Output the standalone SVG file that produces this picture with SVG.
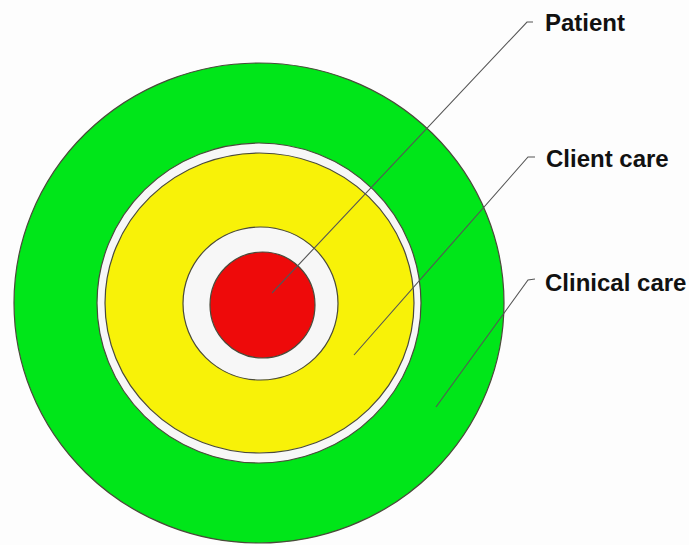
<svg xmlns="http://www.w3.org/2000/svg" width="689" height="545" viewBox="0 0 689 545">
  <style>
    .ring { stroke: #4a4a3a; stroke-width: 1.2; }
    .lead { fill: none; stroke: #555555; stroke-width: 1.1; }
    .label { font-family: "Liberation Sans", Arial, sans-serif; font-weight: bold; font-size: 24px; fill: #111111; }
  </style>
  <rect x="0" y="0" width="689" height="545" fill="#fdfdfd"/>
  <g id="clinical-care">
    <ellipse class="ring" cx="259" cy="303" rx="245" ry="240" fill="#00e619"/>
    <ellipse class="ring" cx="259" cy="303" rx="162" ry="160" fill="#f7f7f7"/>
  </g>
  <g id="client-care">
    <ellipse class="ring" cx="259.5" cy="303" rx="154.5" ry="150" fill="#f8f208"/>
    <ellipse class="ring" cx="260.5" cy="303.5" rx="77.5" ry="76.5" fill="#f7f7f7"/>
  </g>
  <g id="patient">
    <ellipse class="ring" cx="262.5" cy="305" rx="52.5" ry="53" fill="#ee0a0a"/>
  </g>
  <g id="connectors">
    <polyline class="lead" points="533,22 527,22 272,293"/>
    <polyline class="lead" points="535,157 528,157 354,355"/>
    <polyline class="lead" points="535,279 528,280 436,407"/>
  </g>
  <g id="labels">
    <text class="label" x="545" y="31">Patient</text>
    <text class="label" x="546" y="167">Client care</text>
    <text class="label" x="545" y="291">Clinical care</text>
  </g>
</svg>
